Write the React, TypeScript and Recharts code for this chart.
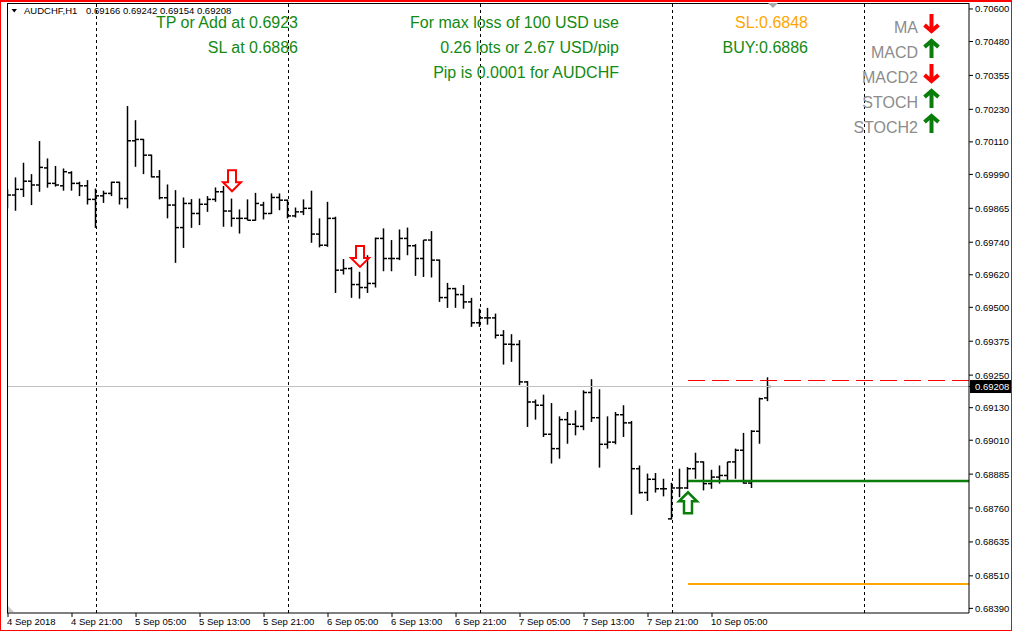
import { Bar, ComposedChart, ReferenceLine, Scatter, XAxis, YAxis } from "recharts";

const FONT = "'Liberation Sans', Arial, sans-serif";

// AUDCHF H1 bars, 4 Sep 13:00 .. 10 Sep 12:00
const opens = [
  0.69914, 0.69914, 0.69935, 0.69965, 0.69951, 0.70014, 0.69957, 0.69948, 0.69996, 0.69957,
  0.69948, 0.69898, 0.69911, 0.6992, 0.69961, 0.69901, 0.70114, 0.70119, 0.70061, 0.69981,
  0.69904, 0.69877, 0.69794, 0.69883, 0.69846, 0.6988, 0.69898, 0.69926, 0.69855, 0.69828,
  0.69828, 0.69821, 0.69877, 0.69846, 0.69905, 0.69895, 0.69837, 0.69852, 0.69865, 0.6977,
  0.69729, 0.69828, 0.69637, 0.69643, 0.69584, 0.69573, 0.69588, 0.69754, 0.6968, 0.6968,
  0.69754, 0.69727, 0.6968, 0.69748, 0.69674, 0.69536, 0.69569, 0.69547, 0.6952, 0.69443,
  0.69461, 0.69461, 0.69397, 0.69364, 0.69363, 0.69225, 0.69151, 0.69139, 0.69032, 0.68979,
  0.69086, 0.69069, 0.69061, 0.69186, 0.69093, 0.68995, 0.69003, 0.69104, 0.69074, 0.68905,
  0.68817, 0.68866, 0.68831, 0.6872, 0.68834, 0.68834, 0.68905, 0.6893, 0.6885, 0.68874,
  0.6888, 0.6893, 0.68973, 0.68852, 0.69043, 0.69166,
];
const highs = [
  0.69935, 0.69979, 0.70033, 0.69991, 0.70113, 0.70049, 0.70021, 0.70012, 0.70002, 0.69963,
  0.69969, 0.69938, 0.6993, 0.69963, 0.69963, 0.70242, 0.7019, 0.70121, 0.70063, 0.70006,
  0.69953, 0.69932, 0.69905, 0.69899, 0.69901, 0.6991, 0.69942, 0.69947, 0.69901, 0.69861,
  0.69898, 0.69922, 0.69889, 0.6992, 0.6992, 0.69897, 0.69868, 0.69898, 0.6993, 0.69828,
  0.69889, 0.69834, 0.69678, 0.69649, 0.69631, 0.69692, 0.69757, 0.69791, 0.69748, 0.69787,
  0.69794, 0.69733, 0.69748, 0.69781, 0.69676, 0.6959, 0.69572, 0.69582, 0.69535, 0.69495,
  0.69498, 0.69477, 0.69416, 0.69401, 0.69379, 0.69228, 0.6916, 0.69178, 0.69147, 0.69098,
  0.69114, 0.6912, 0.69194, 0.69235, 0.69198, 0.69098, 0.69114, 0.69139, 0.69081, 0.68917,
  0.68887, 0.68889, 0.68868, 0.68853, 0.68905, 0.68911, 0.68964, 0.68932, 0.68901, 0.68917,
  0.6893, 0.68979, 0.69037, 0.69047, 0.69167, 0.69242,
];
const lows = [
  0.69865, 0.69856, 0.69907, 0.69877, 0.69926, 0.69941, 0.69945, 0.6993, 0.6993, 0.6991,
  0.69879, 0.69793, 0.69885, 0.6991, 0.69879, 0.69865, 0.70018, 0.69991, 0.69979, 0.69898,
  0.69828, 0.69664, 0.69719, 0.69793, 0.69803, 0.69852, 0.69889, 0.69797, 0.69797, 0.69772,
  0.69821, 0.69819, 0.69824, 0.69844, 0.69858, 0.69828, 0.69831, 0.6984, 0.69738, 0.69721,
  0.69723, 0.69553, 0.69621, 0.69535, 0.69532, 0.69553, 0.69573, 0.69633, 0.69633, 0.69674,
  0.69692, 0.69616, 0.69612, 0.6961, 0.6952, 0.69498, 0.69498, 0.69495, 0.69428, 0.69428,
  0.69436, 0.69385, 0.69289, 0.69299, 0.69213, 0.69059, 0.69086, 0.69022, 0.68924, 0.68942,
  0.68997, 0.69028, 0.69047, 0.69077, 0.68909, 0.68979, 0.68995, 0.69022, 0.68735, 0.68813,
  0.68786, 0.68817, 0.68803, 0.68718, 0.688, 0.6883, 0.68868, 0.68825, 0.68831, 0.6885,
  0.68856, 0.68868, 0.6885, 0.68834, 0.68997, 0.69154,
];
const closes = [
  0.69914, 0.69935, 0.69965, 0.69951, 0.70016, 0.69957, 0.69951, 0.7, 0.69957, 0.69948,
  0.69898, 0.69911, 0.6992, 0.69961, 0.69901, 0.70114, 0.70119, 0.70061, 0.69981, 0.69904,
  0.69877, 0.69794, 0.69883, 0.69846, 0.6988, 0.69898, 0.69926, 0.69855, 0.69828, 0.69828,
  0.69821, 0.69883, 0.69846, 0.69905, 0.69895, 0.69837, 0.69852, 0.69865, 0.6977, 0.69729,
  0.69828, 0.69637, 0.69643, 0.69584, 0.69573, 0.69588, 0.69754, 0.6968, 0.6968, 0.69754,
  0.69727, 0.6968, 0.69748, 0.69674, 0.69536, 0.69569, 0.69547, 0.6952, 0.69443, 0.69461,
  0.69461, 0.69397, 0.69364, 0.69363, 0.69225, 0.69151, 0.69139, 0.69032, 0.68979, 0.69086,
  0.69069, 0.69061, 0.69186, 0.69093, 0.68995, 0.69003, 0.69104, 0.69074, 0.68905, 0.68817,
  0.68866, 0.68831, 0.68831, 0.68834, 0.68834, 0.68905, 0.6893, 0.6885, 0.68874, 0.6888,
  0.6893, 0.68973, 0.68852, 0.69043, 0.69163, 0.69208,
];

const symbol = "AUDCHF,H1";
const timeTickIdx = [0, 8, 16, 24, 32, 40, 48, 56, 64, 72, 80, 88];
const timeTickLabels = [
  "4 Sep 2018", "4 Sep 21:00", "5 Sep 05:00", "5 Sep 13:00", "5 Sep 21:00", "6 Sep 05:00",
  "6 Sep 13:00", "6 Sep 21:00", "7 Sep 05:00", "7 Sep 13:00", "7 Sep 21:00", "10 Sep 05:00",
];
const daySeparators = [11, 35, 59, 83, 107];
const priceTicks = [
  0.706, 0.7048, 0.70355, 0.7023, 0.7011, 0.6999, 0.69865, 0.6974, 0.6962, 0.695,
  0.69375, 0.6925, 0.6913, 0.6901, 0.68885, 0.6876, 0.68635, 0.6851, 0.6839,
];
const priceDomain = [0.68373, 0.70622];
const barDomain = [-0.125, 120.125];

const lastPrice = 0.69208;
const tpPrice = 0.6923;
const buyPrice = 0.6886;
const stopPrice = 0.6848;
const entryIdx = 85;

const sellSignals = [
  { i: 28, price: 0.69928 },
  { i: 44, price: 0.69649 },
];
const buySignals = [{ i: 85, price: 0.68818 }];

const infoLeft = ["TP or Add at 0.6923", "SL at 0.6886"];
const infoMid = ["For max loss of 100 USD use", "0.26 lots or 2.67 USD/pip", "Pip is 0.0001 for AUDCHF"];
const orderSl = "SL:0.6848";
const orderBuy = "BUY:0.6886";
const trendNames = ["MA", "MACD", "MACD2", "STOCH", "STOCH2"];
const trendUp = [false, true, false, true, true];

const rows = opens.map((open, i) => ({ i, open, high: highs[i], low: lows[i], close: closes[i] }));

const GREEN = "#138a13";
const GREY = "#8c8c8c";

function OhlcBar(props: any) {
  const { x, y, width, height, payload } = props;
  if (!payload || !Number.isFinite(y) || !Number.isFinite(height)) return null;
  const cx = x + width / 2;
  const span = payload.high - payload.low || 1;
  const py = (v: number) => y + ((payload.high - v) / span) * height;
  return (
    <g stroke="#000" strokeWidth={1.5}>
      <line x1={cx} y1={y} x2={cx} y2={y + height} />
      <line x1={cx - 3.5} y1={py(payload.open)} x2={cx} y2={py(payload.open)} />
      <line x1={cx} y1={py(payload.close)} x2={cx + 3.5} y2={py(payload.close)} />
    </g>
  );
}

function SellArrow(props: any) {
  const { cx, cy } = props;
  const pts = [
    [cx - 4, cy - 21], [cx + 4, cy - 21], [cx + 4, cy - 9], [cx + 9, cy - 9],
    [cx, cy], [cx - 9, cy - 9], [cx - 4, cy - 9],
  ].map((p) => p.join(",")).join(" ");
  return <polygon points={pts} fill="#fff" stroke="#ff0000" strokeWidth={2} />;
}

function BuyArrow(props: any) {
  const { cx, cy } = props;
  const pts = [
    [cx - 4, cy + 21], [cx + 4, cy + 21], [cx + 4, cy + 9], [cx + 9, cy + 9],
    [cx, cy], [cx - 9, cy + 9], [cx - 4, cy + 9],
  ].map((p) => p.join(",")).join(" ");
  return <polygon points={pts} fill="#fff" stroke="#0a7d0a" strokeWidth={2.5} />;
}

function TimeTick(props: any) {
  const { x, y, payload } = props;
  const k = timeTickIdx.indexOf(payload.value);
  return (
    <text x={x - 1} y={y + 6} fontSize={9.5} fontFamily={FONT} fill="#000">
      {k >= 0 ? timeTickLabels[k] : ""}
    </text>
  );
}

function PriceTick(props: any) {
  const { x, y, payload } = props;
  const v: number = payload.value;
  if (v === lastPrice) {
    return (
      <g>
        <rect x={x - 5} y={y - 6.5} width={42} height={13} fill="#000" />
        <text x={x} y={y + 3.5} fontSize={9.5} fontFamily={FONT} fill="#fff">
          {v.toFixed(5)}
        </text>
      </g>
    );
  }
  return (
    <text x={x} y={y + 3.5} fontSize={9.5} fontFamily={FONT} fill="#000">
      {v.toFixed(5)}
    </text>
  );
}

function TrendArrow({ cx, top, up, color }: { cx: number; top: number; up: boolean; color: string }) {
  const tip = up ? top : top + 19;
  const tail = up ? top + 19 : top;
  const back = up ? top + 8 : top + 11;
  return (
    <g stroke={color} strokeWidth={4} fill="none" strokeLinejoin="miter">
      <line x1={cx} y1={tail} x2={cx} y2={tip + (up ? 2 : -2)} />
      <polyline points={`${cx - 7},${back} ${cx},${tip + (up ? 2 : -2)} ${cx + 7},${back}`} />
    </g>
  );
}

export default function App() {
  const last = rows[rows.length - 1];
  return (
    <div style={{ position: "absolute", left: 0, top: 0, width: 1013, height: 631, background: "#fff" }}>
      <ComposedChart
        width={1013}
        height={631}
        data={rows}
        margin={{ top: 3, right: 0, bottom: 0, left: 7 }}
      >
        <XAxis
          dataKey="i"
          type="number"
          domain={barDomain}
          allowDataOverflow
          ticks={timeTickIdx}
          interval={0}
          height={18}
          tickSize={4}
          tickMargin={2}
          tickLine={{ stroke: "#000" }}
          axisLine={{ stroke: "#000" }}
          tick={<TimeTick />}
        />
        <YAxis
          orientation="right"
          type="number"
          domain={priceDomain}
          allowDataOverflow
          ticks={[...priceTicks, lastPrice]}
          interval={0}
          width={44}
          tickSize={4}
          tickMargin={2}
          tickLine={{ stroke: "#000" }}
          axisLine={{ stroke: "#000" }}
          tick={<PriceTick />}
        />
        {daySeparators.map((d) => (
          <ReferenceLine
            key={d}
            x={d}
            stroke="#000"
            strokeDasharray="3 3"
            strokeWidth={1}
            shapeRendering="crispEdges"
          />
        ))}
        <ReferenceLine y={lastPrice} stroke="#c0c0c0" strokeWidth={1} shapeRendering="crispEdges" />
        <ReferenceLine
          segment={[{ x: entryIdx, y: tpPrice }, { x: barDomain[1], y: tpPrice }]}
          stroke="#ff0000"
          strokeDasharray="17 7"
          strokeWidth={1}
          shapeRendering="crispEdges"
        />
        <ReferenceLine
          segment={[{ x: entryIdx, y: buyPrice }, { x: barDomain[1], y: buyPrice }]}
          stroke="#0a7d0a"
          strokeWidth={2.5}
        />
        <ReferenceLine
          segment={[{ x: entryIdx, y: stopPrice }, { x: barDomain[1], y: stopPrice }]}
          stroke="#ffa500"
          strokeWidth={2}
        />
        <Bar dataKey={(d: any) => [d.low, d.high]} barSize={7} shape={OhlcBar} isAnimationActive={false} />
        <Scatter data={sellSignals} dataKey="price" shape={SellArrow} isAnimationActive={false} />
        <Scatter data={buySignals} dataKey="price" shape={BuyArrow} isAnimationActive={false} />
      </ComposedChart>

      <svg
        width={1013}
        height={631}
        style={{ position: "absolute", left: 0, top: 0, pointerEvents: "none" }}
        fontFamily={FONT}
      >
        <rect x={0.5} y={0.5} width={1011} height={630} fill="none" stroke="#ff0000" strokeWidth={1} />
        <line x1={0} y1={1} x2={1012} y2={1} stroke="#ff0000" strokeWidth={2} />
        <line x1={7.5} y1={3} x2={7.5} y2={613} stroke="#000" strokeWidth={1} />
        <line x1={7} y1={3.5} x2={969} y2={3.5} stroke="#000" strokeWidth={1} />
        <polygon points="768,3 778,3 773,8" fill="#a8a8a8" />
        <polygon points="8,606 8,612 14,612" fill="#c8c8c8" />

        <polygon points="11.5,9 17,9 14.25,12.5" fill="#000" />
        <text x={24} y={13.5} fontSize={9.5} fill="#000">
          {symbol}
        </text>
        <text x={86} y={13.5} fontSize={9.5} fill="#000">
          {[last.open, last.high, last.low, last.close].map((v) => v.toFixed(5)).join(" ")}
        </text>

        {infoLeft.map((t, k) => (
          <text key={t} x={298} y={28 + k * 25} fontSize={16} fill={GREEN} textAnchor="end">
            {t}
          </text>
        ))}
        {infoMid.map((t, k) => (
          <text key={t} x={619} y={28 + k * 25} fontSize={16} fill={GREEN} textAnchor="end">
            {t}
          </text>
        ))}
        <text x={808} y={28} fontSize={16} fill="#ffa500" textAnchor="end">
          {orderSl}
        </text>
        <text x={808} y={53} fontSize={16} fill={GREEN} textAnchor="end">
          {orderBuy}
        </text>

        {trendNames.map((t, k) => (
          <g key={t}>
            <text x={918} y={33 + k * 25} fontSize={16} fill={GREY} textAnchor="end">
              {t}
            </text>
            <TrendArrow
              cx={931.5}
              top={14 + k * 25}
              up={trendUp[k]}
              color={trendUp[k] ? "#0a7d0a" : "#ff0000"}
            />
          </g>
        ))}
      </svg>
    </div>
  );
}
